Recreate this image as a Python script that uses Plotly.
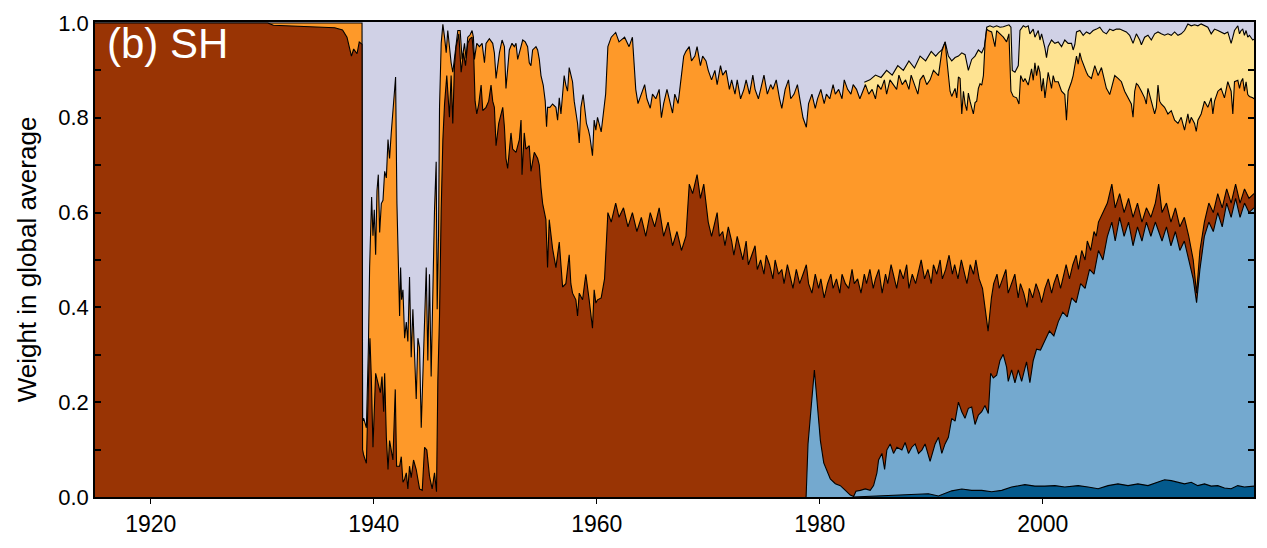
import plotly.graph_objects as go

# Southern Hemisphere: weight of each source in the global average.
# Each list holds (decimal year, upper edge of the layer in the stacked total).

YELLOW_TOP = [
    (1984.0, 0.875), (1984.5, 0.88), (1985.0, 0.89), (1985.5, 0.885), (1986.0, 0.90),
    (1986.5, 0.89), (1987.0, 0.91), (1987.5, 0.90), (1988.0, 0.92), (1988.5, 0.905),
    (1989.0, 0.93), (1989.5, 0.92), (1990.0, 0.94), (1990.4, 0.93), (1990.65, 0.937),
    (1990.95, 0.943), (1991.25, 0.960), (1991.54, 0.930), (1991.84, 0.920), (1992.14, 0.927),
    (1992.44, 0.930), (1992.74, 0.937), (1993.04, 0.933), (1993.33, 0.900), (1993.63, 0.923),
    (1993.93, 0.930), (1994.23, 0.943), (1994.53, 0.937), (1994.77, 0.950), (1994.98, 0.991),
    (1995.27, 0.994), (1995.57, 0.991), (1995.87, 0.994), (1996.17, 0.991), (1996.47, 0.992),
    (1996.76, 0.994), (1996.97, 0.996), (1997.15, 0.991), (1997.27, 0.900), (1997.51, 0.896),
    (1997.81, 0.910), (1997.96, 0.984), (1998.26, 0.994), (1998.47, 0.991), (1998.70, 0.994),
    (1998.85, 0.977), (1999.15, 0.987), (1999.30, 0.970), (1999.60, 0.984), (1999.75, 0.964),
    (1999.90, 0.977), (2000.20, 0.947), (2000.34, 0.927), (2000.49, 0.950), (2000.79, 0.964),
    (2001.09, 0.957), (2001.39, 0.960), (2001.69, 0.950), (2001.98, 0.964), (2002.28, 0.957),
    (2002.58, 0.957), (2002.73, 0.943), (2002.88, 0.954), (2003.03, 0.981), (2003.33, 0.984),
    (2003.63, 0.974), (2003.92, 0.981), (2004.22, 0.977), (2004.52, 0.984), (2004.82, 0.987),
    (2005.12, 0.991), (2005.42, 0.981), (2005.71, 0.977), (2006.01, 0.987), (2006.31, 0.984),
    (2006.61, 0.987), (2006.91, 0.987), (2007.20, 0.984), (2007.50, 0.981), (2007.80, 0.974),
    (2008.10, 0.957), (2008.40, 0.977), (2008.70, 0.964), (2008.85, 0.954), (2009.14, 0.970),
    (2009.44, 0.974), (2009.74, 0.964), (2010.04, 0.977), (2010.34, 0.981), (2010.63, 0.977),
    (2010.93, 0.974), (2011.23, 0.977), (2011.53, 0.974), (2011.83, 0.981), (2012.13, 0.974),
    (2012.42, 0.977), (2012.72, 0.984), (2013.02, 0.998), (2013.32, 0.994), (2013.62, 0.996),
    (2013.92, 0.994), (2014.21, 0.998), (2014.51, 0.994), (2014.81, 0.991), (2015.11, 0.977),
    (2015.41, 0.987), (2015.71, 0.984), (2016.00, 0.981), (2016.30, 0.977), (2016.60, 0.981),
    (2016.90, 0.957), (2017.05, 0.970), (2017.20, 0.984), (2017.50, 0.994), (2017.65, 0.977),
    (2017.79, 0.984), (2017.94, 0.987), (2018.09, 0.974), (2018.24, 0.984), (2018.39, 0.970),
    (2018.54, 0.974), (2018.84, 0.964), (2018.95, 0.966),
]

ORANGE_TOP = [
    (1915.0, 1.0), (1938.95, 1.0), (1939.0, 0.16), (1939.10, 0.166), (1939.34, 0.146),
    (1939.52, 0.315), (1939.63, 0.484), (1939.72, 0.592), (1939.81, 0.633), (1939.93, 0.551),
    (1940.05, 0.606), (1940.17, 0.511), (1940.29, 0.646), (1940.41, 0.680), (1940.53, 0.558),
    (1940.68, 0.619), (1940.83, 0.626), (1940.98, 0.687), (1941.13, 0.673), (1941.28, 0.754),
    (1941.42, 0.714), (1941.57, 0.768), (1941.72, 0.822), (1941.87, 0.856), (1941.96, 0.886),
    (1942.08, 0.619), (1942.20, 0.518), (1942.32, 0.382), (1942.41, 0.484), (1942.50, 0.416),
    (1942.62, 0.437), (1942.77, 0.335), (1942.92, 0.369), (1943.06, 0.328), (1943.21, 0.464),
    (1943.36, 0.295), (1943.51, 0.396), (1943.66, 0.295), (1943.81, 0.207), (1943.96, 0.335),
    (1944.11, 0.315), (1944.26, 0.146), (1944.41, 0.268), (1944.56, 0.382), (1944.71, 0.484),
    (1944.85, 0.288), (1945.00, 0.470), (1945.15, 0.254), (1945.30, 0.443), (1945.45, 0.606),
    (1945.60, 0.707), (1945.69, 0.396), (1945.81, 0.551), (1945.90, 0.822), (1946.05, 0.957),
    (1946.20, 0.997), (1946.35, 0.970), (1946.50, 0.937), (1946.64, 0.984), (1946.79, 0.943),
    (1946.94, 0.916), (1947.09, 0.896), (1947.39, 0.957), (1947.54, 0.984), (1947.75, 0.984),
    (1947.93, 0.923), (1948.14, 0.957), (1948.28, 0.925), (1948.43, 0.970), (1948.64, 0.975),
    (1948.82, 0.984), (1948.94, 0.970), (1949.03, 0.923), (1949.24, 0.957), (1949.48, 0.950),
    (1949.72, 0.957), (1949.93, 0.916), (1950.07, 0.957), (1950.37, 0.967), (1950.67, 0.957),
    (1950.82, 0.937), (1950.97, 0.883), (1951.27, 0.937), (1951.51, 0.964), (1951.72, 0.950),
    (1951.86, 0.862), (1952.16, 0.943), (1952.40, 0.957), (1952.61, 0.950), (1952.76, 0.957),
    (1952.91, 0.923), (1953.06, 0.937), (1953.36, 0.964), (1953.59, 0.960), (1953.80, 0.950),
    (1953.95, 0.916), (1954.10, 0.910), (1954.25, 0.943), (1954.55, 0.950), (1954.70, 0.943),
    (1954.85, 0.923), (1955.00, 0.889), (1955.20, 0.869), (1955.38, 0.835), (1955.50, 0.781),
    (1955.59, 0.822), (1955.80, 0.822), (1956.04, 0.829), (1956.34, 0.822), (1956.49, 0.795),
    (1956.64, 0.842), (1956.79, 0.808), (1956.94, 0.842), (1957.08, 0.889), (1957.23, 0.869),
    (1957.38, 0.856), (1957.53, 0.906), (1957.68, 0.889), (1957.83, 0.876), (1957.98, 0.835),
    (1958.13, 0.815), (1958.28, 0.788), (1958.43, 0.747), (1958.58, 0.822), (1958.78, 0.849),
    (1958.96, 0.815), (1959.08, 0.788), (1959.26, 0.774), (1959.38, 0.761), (1959.62, 0.720),
    (1959.77, 0.795), (1959.92, 0.774), (1960.07, 0.801), (1960.4, 0.77), (1960.8, 0.85),
    (1961.0, 0.95), (1961.3, 0.97), (1961.7, 0.98), (1962.0, 0.96), (1962.5, 0.97),
    (1962.9, 0.95), (1963.2, 0.97), (1963.5, 0.86), (1963.7, 0.83), (1964.0, 0.85),
    (1964.3, 0.87), (1964.5, 0.84), (1964.8, 0.82), (1965.0, 0.85), (1965.3, 0.84),
    (1965.6, 0.86), (1965.8, 0.80), (1966.0, 0.83), (1966.3, 0.86), (1966.5, 0.84),
    (1966.8, 0.81), (1967.0, 0.85), (1967.3, 0.83), (1967.5, 0.87), (1967.8, 0.93),
    (1968.0, 0.94), (1968.3, 0.95), (1968.5, 0.92), (1968.8, 0.93), (1969.0, 0.95),
    (1969.3, 0.91), (1969.5, 0.93), (1969.8, 0.92), (1970.0, 0.90), (1970.3, 0.88),
    (1970.6, 0.90), (1970.8, 0.87), (1971.1, 0.91), (1971.3, 0.89), (1971.6, 0.90),
    (1971.9, 0.86), (1972.1, 0.88), (1972.4, 0.85), (1972.6, 0.88), (1972.9, 0.84),
    (1973.2, 0.86), (1973.4, 0.88), (1973.7, 0.85), (1974.0, 0.89), (1974.2, 0.86),
    (1974.5, 0.84), (1974.8, 0.87), (1975.0, 0.89), (1975.3, 0.85), (1975.6, 0.87),
    (1975.8, 0.86), (1976.1, 0.88), (1976.4, 0.84), (1976.6, 0.82), (1976.9, 0.86),
    (1977.2, 0.88), (1977.4, 0.84), (1977.7, 0.85), (1978.0, 0.87), (1978.3, 0.83),
    (1978.5, 0.80), (1978.8, 0.78), (1979.0, 0.83), (1979.3, 0.85), (1979.6, 0.82),
    (1979.8, 0.84), (1980.1, 0.86), (1980.4, 0.83), (1980.6, 0.85), (1980.9, 0.84),
    (1981.2, 0.87), (1981.4, 0.85), (1981.7, 0.86), (1982.0, 0.84), (1982.2, 0.88),
    (1982.5, 0.86), (1982.8, 0.85), (1983.0, 0.87), (1983.3, 0.86), (1983.6, 0.84),
    (1983.9, 0.86), (1984.1, 0.87), (1984.4, 0.85), (1984.7, 0.86), (1985.0, 0.84),
    (1985.2, 0.87), (1985.5, 0.86), (1985.8, 0.88), (1986.0, 0.85), (1986.3, 0.88),
    (1986.6, 0.87), (1986.9, 0.86), (1987.1, 0.89), (1987.4, 0.87), (1987.7, 0.88),
    (1988.0, 0.86), (1988.2, 0.89), (1988.5, 0.87), (1988.8, 0.85), (1989.0, 0.88),
    (1989.3, 0.89), (1989.6, 0.87), (1989.9, 0.88), (1990.2, 0.90),
    (1990.65, 0.889), (1990.95, 0.940), (1991.25, 0.960), (1991.40, 0.923), (1991.54, 0.889),
    (1991.69, 0.856), (1991.84, 0.845), (1992.14, 0.862), (1992.29, 0.842), (1992.44, 0.886),
    (1992.59, 0.883), (1992.74, 0.808), (1992.89, 0.856), (1993.04, 0.829), (1993.19, 0.815),
    (1993.33, 0.852), (1993.48, 0.835), (1993.63, 0.822), (1993.78, 0.808), (1993.93, 0.832),
    (1994.08, 0.835), (1994.23, 0.862), (1994.38, 0.872), (1994.53, 0.869), (1994.68, 0.889),
    (1994.83, 0.957), (1994.98, 0.987), (1995.12, 0.984), (1995.42, 0.981), (1995.72, 0.950),
    (1995.87, 0.984), (1996.17, 0.977), (1996.47, 0.970), (1996.76, 0.960), (1996.97, 0.977),
    (1997.15, 0.856), (1997.36, 0.845), (1997.66, 0.842), (1997.87, 0.829), (1998.02, 0.889),
    (1998.26, 0.876), (1998.41, 0.883), (1998.70, 0.869), (1999.00, 0.903), (1999.15, 0.879),
    (1999.30, 0.916), (1999.45, 0.889), (1999.60, 0.910), (1999.75, 0.896), (1999.90, 0.856),
    (2000.05, 0.883), (2000.20, 0.842), (2000.34, 0.876), (2000.49, 0.896), (2000.79, 0.862),
    (2000.94, 0.889), (2001.09, 0.876), (2001.39, 0.876), (2001.69, 0.856), (2001.98, 0.849),
    (2002.13, 0.795), (2002.28, 0.856), (2002.58, 0.876), (2002.73, 0.889), (2002.88, 0.910),
    (2003.03, 0.930), (2003.18, 0.913), (2003.33, 0.937), (2003.48, 0.923), (2003.77, 0.903),
    (2003.92, 0.896), (2004.07, 0.889), (2004.37, 0.883), (2004.67, 0.910), (2004.97, 0.889),
    (2005.27, 0.906), (2005.56, 0.879), (2005.71, 0.862), (2005.86, 0.856), (2006.01, 0.849),
    (2006.16, 0.862), (2006.46, 0.889), (2006.76, 0.883), (2007.06, 0.876), (2007.35, 0.856),
    (2007.65, 0.842), (2007.95, 0.829), (2008.10, 0.801), (2008.25, 0.856), (2008.40, 0.872),
    (2008.55, 0.869), (2008.85, 0.856), (2009.14, 0.842), (2009.29, 0.829), (2009.44, 0.862),
    (2009.74, 0.835), (2010.04, 0.808), (2010.19, 0.822), (2010.34, 0.869), (2010.49, 0.835),
    (2010.63, 0.829), (2010.93, 0.822), (2011.23, 0.808), (2011.53, 0.815), (2011.83, 0.795),
    (2012.13, 0.788), (2012.42, 0.801), (2012.72, 0.774), (2012.87, 0.795), (2013.02, 0.808),
    (2013.17, 0.788), (2013.32, 0.801), (2013.62, 0.788), (2013.77, 0.771), (2013.92, 0.795),
    (2014.21, 0.808), (2014.51, 0.835), (2014.81, 0.822), (2015.11, 0.842), (2015.26, 0.808),
    (2015.41, 0.835), (2015.71, 0.856), (2016.00, 0.862), (2016.30, 0.842), (2016.60, 0.876),
    (2016.90, 0.856), (2017.05, 0.808), (2017.20, 0.876), (2017.50, 0.879), (2017.65, 0.862),
    (2017.79, 0.876), (2017.94, 0.883), (2018.09, 0.856), (2018.24, 0.876), (2018.39, 0.849),
    (2018.54, 0.845), (2018.84, 0.842), (2018.95, 0.840),
]

BROWN_TOP = [
    (1915.0, 1.0), (1930.5, 1.0), (1931.0, 0.995), (1933.0, 0.993), (1935.0, 0.99),
    (1936.5, 0.99), (1937.2, 0.985), (1937.6, 0.97), (1938.0, 0.93), (1938.2, 0.945),
    (1938.5, 0.935), (1938.7, 0.96), (1938.95, 0.955), (1939.0, 0.10), (1939.10, 0.088),
    (1939.34, 0.071), (1939.57, 0.281), (1939.66, 0.335), (1939.78, 0.254), (1939.93, 0.105),
    (1940.17, 0.261), (1940.38, 0.241), (1940.59, 0.220), (1940.74, 0.254), (1940.89, 0.180),
    (1940.98, 0.261), (1941.13, 0.126), (1941.28, 0.058), (1941.42, 0.119), (1941.57, 0.099),
    (1941.72, 0.078), (1941.93, 0.227), (1942.05, 0.065), (1942.32, 0.065), (1942.47, 0.085),
    (1942.62, 0.031), (1942.77, 0.038), (1942.92, 0.051), (1943.06, 0.017), (1943.21, 0.065),
    (1943.36, 0.041), (1943.57, 0.078), (1943.81, 0.058), (1944.11, 0.017), (1944.35, 0.014),
    (1944.56, 0.105), (1944.76, 0.099), (1945.00, 0.044), (1945.24, 0.017), (1945.45, 0.051),
    (1945.63, 0.011), (1945.75, 0.247), (1945.90, 0.382), (1946.05, 0.606), (1946.20, 0.754),
    (1946.35, 0.829), (1946.55, 0.889), (1946.79, 0.801), (1946.94, 0.889), (1947.09, 0.788),
    (1947.24, 0.910), (1947.39, 0.950), (1947.63, 0.977), (1947.84, 0.896), (1948.05, 0.937),
    (1948.23, 0.910), (1948.43, 0.957), (1948.64, 0.967), (1948.82, 0.970), (1948.97, 0.930),
    (1949.09, 0.835), (1949.24, 0.808), (1949.42, 0.829), (1949.63, 0.869), (1949.78, 0.815),
    (1950.07, 0.822), (1950.31, 0.835), (1950.52, 0.869), (1950.67, 0.835), (1950.82, 0.822),
    (1950.97, 0.741), (1951.21, 0.788), (1951.42, 0.808), (1951.57, 0.822), (1951.72, 0.781),
    (1951.86, 0.714), (1952.01, 0.693), (1952.31, 0.768), (1952.46, 0.734), (1952.76, 0.727),
    (1953.06, 0.754), (1953.21, 0.795), (1953.30, 0.680), (1953.50, 0.768), (1953.65, 0.734),
    (1953.95, 0.741), (1954.10, 0.687), (1954.40, 0.727), (1954.70, 0.714), (1954.85, 0.700),
    (1955.00, 0.653), (1955.15, 0.619), (1955.44, 0.585), (1955.59, 0.484), (1955.74, 0.585),
    (1956.04, 0.524), (1956.34, 0.484), (1956.64, 0.538), (1956.94, 0.443), (1957.23, 0.450),
    (1957.53, 0.511), (1957.68, 0.450), (1957.83, 0.430), (1958.13, 0.416), (1958.28, 0.382),
    (1958.43, 0.430), (1958.73, 0.416), (1959.02, 0.470), (1959.32, 0.416), (1959.62, 0.356),
    (1959.77, 0.437), (1959.92, 0.409), (1960.07, 0.416), (1960.4, 0.42), (1960.7, 0.46),
    (1961.0, 0.60), (1961.3, 0.58), (1961.7, 0.62), (1962.0, 0.59), (1962.4, 0.61),
    (1962.8, 0.57), (1963.2, 0.60), (1963.6, 0.56), (1964.0, 0.59), (1964.4, 0.55),
    (1964.8, 0.60), (1965.2, 0.57), (1965.6, 0.61), (1966.0, 0.55), (1966.4, 0.58),
    (1966.8, 0.53), (1967.2, 0.56), (1967.6, 0.52), (1968.0, 0.55), (1968.3, 0.66),
    (1968.6, 0.64), (1969.0, 0.68), (1969.3, 0.63), (1969.6, 0.66), (1970.0, 0.58),
    (1970.3, 0.55), (1970.5, 0.57), (1970.8, 0.60), (1971.0, 0.55), (1971.3, 0.56),
    (1971.5, 0.53), (1971.8, 0.57), (1972.1, 0.54), (1972.3, 0.51), (1972.6, 0.55),
    (1972.9, 0.52), (1973.1, 0.50), (1973.4, 0.54), (1973.6, 0.49), (1973.9, 0.51),
    (1974.2, 0.53), (1974.4, 0.48), (1974.7, 0.50), (1975.0, 0.47), (1975.2, 0.51),
    (1975.5, 0.49), (1975.8, 0.46), (1976.0, 0.50), (1976.3, 0.47), (1976.6, 0.48),
    (1976.8, 0.45), (1977.1, 0.49), (1977.4, 0.46), (1977.6, 0.44), (1977.9, 0.48),
    (1978.2, 0.45), (1978.5, 0.47), (1978.8, 0.49), (1979.0, 0.45), (1979.3, 0.43),
    (1979.6, 0.47), (1979.9, 0.44), (1980.1, 0.46), (1980.4, 0.42), (1980.7, 0.45),
    (1981.0, 0.47), (1981.2, 0.44), (1981.5, 0.46), (1981.8, 0.43), (1982.0, 0.47),
    (1982.3, 0.45), (1982.6, 0.44), (1982.9, 0.48), (1983.1, 0.45), (1983.4, 0.46),
    (1983.7, 0.43), (1984.0, 0.47), (1984.2, 0.45), (1984.5, 0.48), (1984.8, 0.44),
    (1985.0, 0.46), (1985.3, 0.48), (1985.6, 0.43), (1985.9, 0.47), (1986.1, 0.45),
    (1986.4, 0.49), (1986.7, 0.46), (1986.9, 0.44), (1987.2, 0.48), (1987.5, 0.46),
    (1987.8, 0.49), (1988.0, 0.44), (1988.3, 0.47), (1988.6, 0.45), (1988.9, 0.48),
    (1989.1, 0.50), (1989.4, 0.46), (1989.7, 0.48), (1990.0, 0.45), (1990.2, 0.49),
    (1990.5, 0.47), (1990.8, 0.50), (1991.0, 0.46), (1991.3, 0.48), (1991.6, 0.51),
    (1991.9, 0.47), (1992.1, 0.49), (1992.4, 0.46), (1992.7, 0.50), (1993.0, 0.47),
    (1993.2, 0.45), (1993.5, 0.49), (1993.8, 0.47), (1994.0, 0.50), (1994.3, 0.46),
    (1994.6, 0.44), (1994.8, 0.40), (1995.1, 0.35), (1995.4, 0.42), (1995.6, 0.45),
    (1995.9, 0.47), (1996.1, 0.44), (1996.4, 0.46), (1996.7, 0.48), (1996.9, 0.43),
    (1997.2, 0.45), (1997.5, 0.47), (1997.8, 0.42), (1998.0, 0.45), (1998.3, 0.43),
    (1998.6, 0.40), (1998.8, 0.44), (1999.1, 0.42), (1999.4, 0.45), (1999.7, 0.43),
    (1999.9, 0.41), (2000.2, 0.44), (2000.5, 0.46), (2000.8, 0.43), (2001.0, 0.45),
    (2001.3, 0.47), (2001.6, 0.44), (2001.9, 0.47), (2002.1, 0.49), (2002.4, 0.46),
    (2002.7, 0.49), (2003.0, 0.51), (2003.2, 0.48), (2003.5, 0.52), (2003.8, 0.50),
    (2004.0, 0.54), (2004.3, 0.52), (2004.6, 0.56), (2004.8, 0.55), (2005.0, 0.58),
    (2005.4, 0.60), (2005.8, 0.62),
    (2006.2, 0.66), (2006.5, 0.61), (2006.9, 0.64), (2007.3, 0.60), (2007.7, 0.63),
    (2008.1, 0.59), (2008.5, 0.62), (2008.9, 0.58), (2009.3, 0.61), (2009.7, 0.59),
    (2010.1, 0.62), (2010.4, 0.66), (2010.7, 0.60), (2011.1, 0.62), (2011.5, 0.58),
    (2011.9, 0.61), (2012.3, 0.57), (2012.7, 0.59), (2013.1, 0.55), (2013.5, 0.50),
    (2013.8, 0.43), (2014.1, 0.52), (2014.5, 0.58), (2014.9, 0.62), (2015.3, 0.60),
    (2015.7, 0.64), (2016.1, 0.61), (2016.5, 0.65), (2016.9, 0.62), (2017.3, 0.66),
    (2017.7, 0.62), (2018.1, 0.65), (2018.5, 0.63), (2018.95, 0.64),
]

LIGHT_BLUE_TOP = [
    (1978.75, 0.0), (1978.78, 0.001), (1978.95, 0.112), (1979.16, 0.173), (1979.31, 0.213),
    (1979.52, 0.268), (1979.67, 0.227), (1979.85, 0.180), (1980.06, 0.119), (1980.36, 0.072),
    (1980.65, 0.055), (1980.95, 0.038), (1981.40, 0.028), (1981.85, 0.024), (1982.30, 0.014),
    (1982.74, 0.004), (1983.04, 0.001), (1983.25, 0.012), (1983.64, 0.014), (1984.09, 0.017),
    (1984.53, 0.014), (1984.83, 0.024), (1985.13, 0.051), (1985.28, 0.078), (1985.58, 0.092),
    (1985.82, 0.058), (1986.02, 0.099), (1986.32, 0.112), (1986.62, 0.092), (1986.92, 0.105),
    (1987.37, 0.099), (1987.66, 0.115), (1987.96, 0.092), (1988.26, 0.105), (1988.56, 0.112),
    (1988.86, 0.092), (1989.16, 0.099), (1989.45, 0.112), (1989.90, 0.075), (1990.35, 0.112),
    (1990.65, 0.126), (1990.95, 0.092), (1991.24, 0.112), (1991.54, 0.126), (1991.84, 0.166),
    (1992.14, 0.160), (1992.44, 0.200), (1992.74, 0.180), (1993.03, 0.166), (1993.33, 0.187),
    (1993.63, 0.190), (1993.93, 0.153), (1994.23, 0.173), (1994.53, 0.180), (1994.82, 0.193),
    (1995.12, 0.176), (1995.33, 0.261), (1995.57, 0.251), (1995.87, 0.257), (1996.17, 0.288),
    (1996.46, 0.301), (1996.76, 0.274), (1996.91, 0.244), (1997.21, 0.268), (1997.51, 0.241),
    (1997.81, 0.268), (1998.11, 0.244), (1998.55, 0.285), (1998.85, 0.241), (1999.15, 0.288),
    (1999.45, 0.312), (1999.8, 0.31), (2000.2, 0.33), (2000.6, 0.35), (2001.0, 0.34),
    (2001.4, 0.37), (2001.8, 0.39), (2002.2, 0.38), (2002.6, 0.42), (2003.0, 0.41),
    (2003.4, 0.45), (2003.8, 0.44), (2004.2, 0.48), (2004.6, 0.47), (2005.0, 0.52),
    (2005.4, 0.50), (2005.8, 0.55), (2006.2, 0.58), (2006.5, 0.54), (2006.9, 0.59),
    (2007.3, 0.55), (2007.7, 0.58), (2008.1, 0.53), (2008.5, 0.57), (2008.9, 0.54),
    (2009.3, 0.58), (2009.7, 0.55), (2010.1, 0.58), (2010.4, 0.56), (2010.7, 0.54),
    (2011.1, 0.57), (2011.5, 0.53), (2011.9, 0.56), (2012.3, 0.52), (2012.7, 0.54),
    (2013.1, 0.50), (2013.5, 0.46), (2013.8, 0.41), (2014.1, 0.48), (2014.5, 0.55),
    (2014.9, 0.58), (2015.3, 0.56), (2015.7, 0.60), (2016.1, 0.57), (2016.5, 0.62),
    (2016.9, 0.59), (2017.3, 0.63), (2017.7, 0.59), (2018.1, 0.62), (2018.5, 0.60),
    (2018.95, 0.61),
]

DARK_BLUE_TOP = [
    (1983.0, 0.0), (1985.28, 0.002), (1986.77, 0.004), (1988.26, 0.005), (1989.75, 0.007),
    (1990.65, 0.002), (1991.24, 0.007), (1991.84, 0.013), (1992.74, 0.017), (1993.63, 0.014),
    (1994.53, 0.014), (1995.42, 0.011), (1996.32, 0.014), (1997.21, 0.021), (1998.40, 0.026),
    (1999.30, 0.023), (2000.19, 0.023), (2001.09, 0.024), (2001.98, 0.021), (2003.18, 0.024),
    (2004.07, 0.021), (2004.97, 0.0175), (2005.86, 0.024), (2006.75, 0.0277), (2007.65, 0.024),
    (2008.54, 0.0277), (2009.44, 0.024), (2010.33, 0.031), (2010.93, 0.0365), (2011.53, 0.0345),
    (2012.12, 0.031), (2012.72, 0.0277), (2013.32, 0.031), (2013.91, 0.024), (2014.51, 0.0277),
    (2015.11, 0.023), (2015.70, 0.024), (2016.30, 0.019), (2016.90, 0.0175), (2017.49, 0.024),
    (2018.09, 0.021), (2018.84, 0.024), (2018.95, 0.023),
]

LAYER_COLORS = {
    "yellow": "#FEE391",
    "orange": "#FE9929",
    "brown": "#993404",
    "light_blue": "#74A9CF",
    "dark_blue": "#045A8D",
}
REMAINDER_COLOR = "#D0D1E6"

X_TICKS = [1920, 1940, 1960, 1980, 2000]
Y_TICKS = [round(0.1 * i, 1) for i in range(11)]
Y_LABELS = [f"{v:.1f}" if i % 2 == 0 else "" for i, v in enumerate(Y_TICKS)]

fig = go.Figure()

# Layers are painted from the top edge down, each filled to zero, so every
# lower layer covers the part of the one above it that lies beneath it.
for name, pts in [
    ("yellow", YELLOW_TOP),
    ("orange", ORANGE_TOP),
    ("brown", BROWN_TOP),
    ("light_blue", LIGHT_BLUE_TOP),
    ("dark_blue", DARK_BLUE_TOP),
]:
    xs, ys = zip(*pts)
    fig.add_trace(go.Scatter(
        x=xs, y=ys, mode="lines", fill="tozeroy",
        fillcolor=LAYER_COLORS[name],
        line=dict(color="black", width=1.1),
        hoverinfo="skip", showlegend=False, name=name,
    ))

font_family = "Liberation Sans, Arial, Helvetica, sans-serif"

fig.update_layout(
    width=1267, height=548,
    margin=dict(l=95, r=11, t=11, b=44),
    paper_bgcolor="white",
    plot_bgcolor=REMAINDER_COLOR,
    font=dict(family=font_family, size=22, color="black"),
    xaxis=dict(
        range=[1915.0, 2018.95],
        tickvals=X_TICKS, ticktext=[str(t) for t in X_TICKS],
        ticks="outside", ticklen=5, tickwidth=1.2, tickcolor="black",
        showline=True, linecolor="black", linewidth=2, mirror=True,
        showgrid=False, zeroline=False,
        tickfont=dict(size=23),
    ),
    yaxis=dict(
        range=[0.0, 1.002],
        tickvals=Y_TICKS, ticktext=Y_LABELS,
        ticks="inside", ticklen=6, tickwidth=2, tickcolor="black",
        showline=True, linecolor="black", linewidth=1.5, mirror="ticks",
        showgrid=False, zeroline=False,
        tickfont=dict(size=22),
        title=dict(text="Weight in global average", font=dict(size=26), standoff=14),
    ),
    annotations=[dict(
        text="(b) SH", xref="paper", yref="paper", x=0.009, y=1.008,
        xanchor="left", yanchor="top", showarrow=False,
        font=dict(family=font_family, size=42, color="white"),
    )],
)

fig.write_html("out.html")
